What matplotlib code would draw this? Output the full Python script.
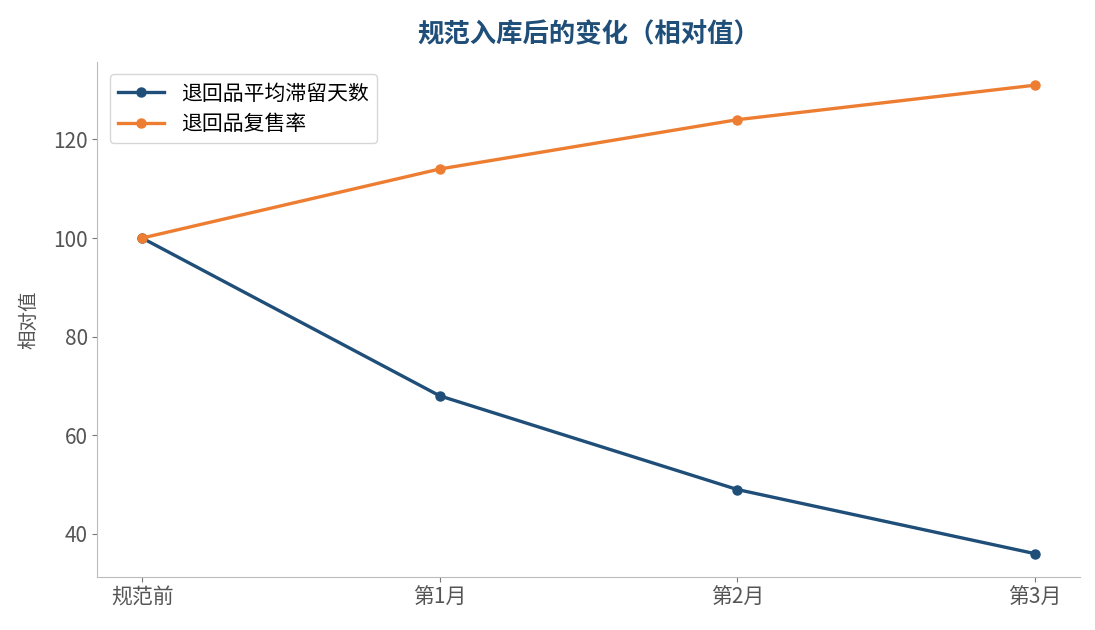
import matplotlib
matplotlib.use("Agg")
import matplotlib.pyplot as plt

plt.rcParams['font.family'] = ['Noto Sans CJK SC', 'DejaVu Sans']

periods = ["规范前", "第1月", "第2月", "第3月"]
stay_days = [100, 68, 49, 36]
resale_rate = [100, 114, 124, 131]

fig, ax = plt.subplots(figsize=(10.95, 6.3), dpi=100)
ax.plot(periods, stay_days, color="#1f4e79", linewidth=2.4, marker="o", markersize=6.5, label="退回品平均滞留天数")
ax.plot(periods, resale_rate, color="#ed7d31", linewidth=2.4, marker="o", markersize=6.5, label="退回品复售率")

ax.set_title("规范入库后的变化（相对值）", fontsize=19, fontweight="bold", color="#1f4e79", pad=14)
ax.set_ylabel("相对值", fontsize=14, color="#555555", labelpad=10)
ax.spines["top"].set_visible(False)
ax.spines["right"].set_visible(False)
for s in ("left", "bottom"):
    ax.spines[s].set_color("#bbbbbb")
ax.tick_params(colors="#555555", labelsize=15)
ax.tick_params(axis="both", color="#777777")
ax.set_yticks([40, 60, 80, 100, 120])
ax.legend(loc="upper left", fontsize=15, frameon=True, edgecolor="#cccccc",
          labelspacing=0.4, handlelength=2.2, borderaxespad=0.6)

plt.subplots_adjust(left=0.089, right=0.986, top=0.902, bottom=0.084)
fig.savefig("out.png", dpi=100)
